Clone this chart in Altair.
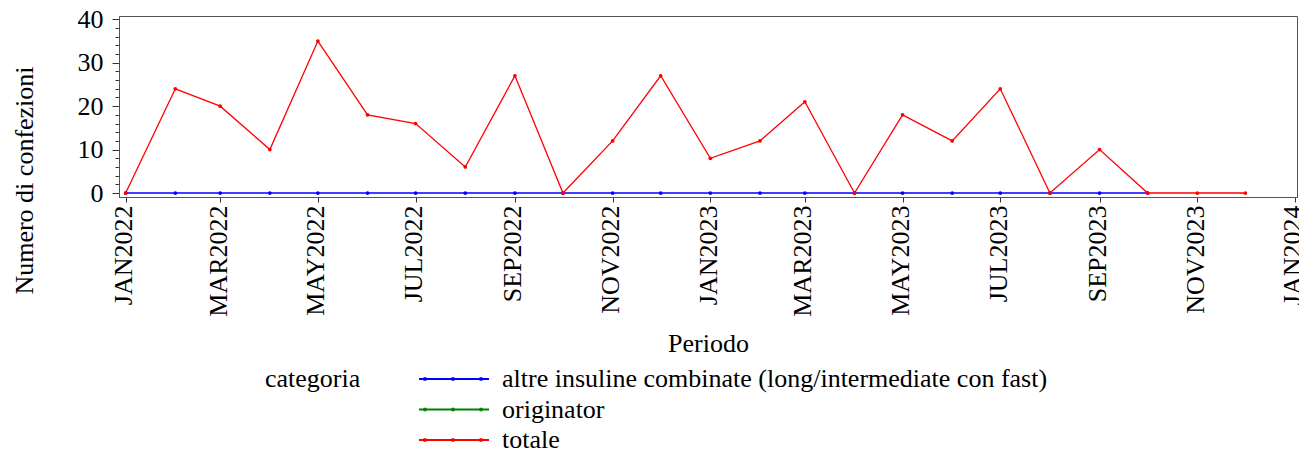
import altair as alt
import pandas as pd

months = ["2022-01-01", "2022-02-01", "2022-03-01", "2022-04-01", "2022-05-01", "2022-06-01",
          "2022-07-01", "2022-08-01", "2022-09-01", "2022-10-01", "2022-11-01", "2022-12-01",
          "2023-01-01", "2023-02-01", "2023-03-01", "2023-04-01", "2023-05-01", "2023-06-01",
          "2023-07-01", "2023-08-01", "2023-09-01", "2023-10-01", "2023-11-01", "2023-12-01"]
totale = [0, 24, 20, 10, 35, 18, 16, 6, 27, 0, 12, 27, 8, 12, 21, 0, 18, 12, 24, 0, 10, 0, 0, 0]
altre = [0, 0, 0, 0, 0, 0, 0, 0, 0, 0, 0, 0, 0, 0, 0, 0, 0, 0, 0, 0, 0, 0]
originator = []
categorie = ["altre insuline combinate (long/intermediate con fast)", "originator", "totale"]
colori = ["#0000ff", "#008000", "#ff0000"]

rows = []
for serie, cat in [(altre, categorie[0]), (originator, categorie[1]), (totale, categorie[2])]:
    for m, v in zip(months, serie):
        rows.append({"periodo": m + "T00:00:00", "valore": v, "categoria": cat})
df = pd.DataFrame(rows)

FONT = "Liberation Serif"
FS = 26
# legend symbol: a 70px line with three dots (unit = 10px, layout box 20px)
sym = ("M-1,0H6"
       "M-0.45,-0.08h0.1v0.16h-0.1Z"
       "M2.35,-0.08h0.1v0.16h-0.1Z"
       "M5.15,-0.08h0.1v0.16h-0.1Z")

x = alt.X(
    "periodo:T",
    title="Periodo",
    scale=alt.Scale(
        domain=[alt.DateTime(year=2021, month=12, date=27, hours=20),
                alt.DateTime(year=2024, month=1, date=2, hours=6)],
        nice=False,
    ),
    axis=alt.Axis(
        tickCount=alt.TimeIntervalStep(interval="month", step=2),
        labelExpr="upper(timeFormat(datum.value, '%b%Y'))",
        labelAngle=270,
        labelAlign="right",
        labelBaseline="middle",
        labelOffset=-2,
        labelFont=FONT,
        labelFontSize=FS,
        labelColor="black",
        labelPadding=3,
        labelOverlap=False,
        labelFlush=False,
        tickSize=5,
        tickColor="#333",
        domainColor="#555",
        grid=False,
        titleFont=FONT,
        titleFontSize=FS,
        titleFontWeight="normal",
        titleColor="black",
        titleX=589,
        titleY=146,
        titleBaseline="middle",
        titleAlign="center",
    ),
)

y = alt.Y(
    "valore:Q",
    title="Numero di confezioni",
    scale=alt.Scale(domain=[-0.92, 40.76], nice=False, zero=False),
    axis=alt.Axis(
        values=list(range(0, 41, 2)),
        labelExpr="datum.value % 10 === 0 ? datum.label : ''",
        tickSize={"condition": {"test": "datum.value % 10 === 0", "value": 7}, "value": 4},
        labelPadding=9,
        labelFont=FONT,
        labelFontSize=FS,
        labelColor="black",
        labelBaseline="middle",
        tickColor="#333",
        domainColor="#555",
        grid=False,
        titleFont=FONT,
        titleFontSize=FS,
        titleFontWeight="normal",
        titleColor="black",
        titleAngle=270,
        titleX=-95,
        titleY=164,
        titleAlign="center",
        titleBaseline="middle",
    ),
)

color = alt.Color(
    "categoria:N",
    scale=alt.Scale(domain=categorie, range=colori),
    legend=alt.Legend(
        title="categoria",
        orient="none",
        legendX=146,
        legendY=350,
        direction="vertical",
        titleOrient="left",
        titleAnchor="start",
        titleFont=FONT,
        titleFontSize=FS,
        titleFontWeight="normal",
        titleColor="black",
        titlePadding=55,
        titleBaseline="top",
        labelFont=FONT,
        labelFontSize=FS,
        labelColor="black",
        labelOffset=60,
        symbolType=sym,
        symbolSize=400,
        symbolStrokeWidth=2,
        rowPadding=4.5,
        labelLimit=1000,
    ),
)

chart = (
    alt.Chart(df)
    .mark_line(strokeWidth=1.3, point=alt.OverlayMarkDef(filled=True, size=14, opacity=1))
    .encode(x=x, y=y, color=color, order=alt.Order("periodo:T"))
    .properties(
        width=1178,
        height=181,
        padding={"left": 111, "top": 8, "right": 2, "bottom": 256},
        autosize=alt.AutoSizeParams(type="none"),
    )
    .configure(font=FONT)
    .configure_axis(labelFont=FONT, titleFont=FONT)
    .configure_legend(labelFont=FONT, titleFont=FONT)
    .configure_view(stroke="#555", strokeWidth=1)
)

chart.save("out.html", embed_options={"renderer": "svg", "actions": False})
